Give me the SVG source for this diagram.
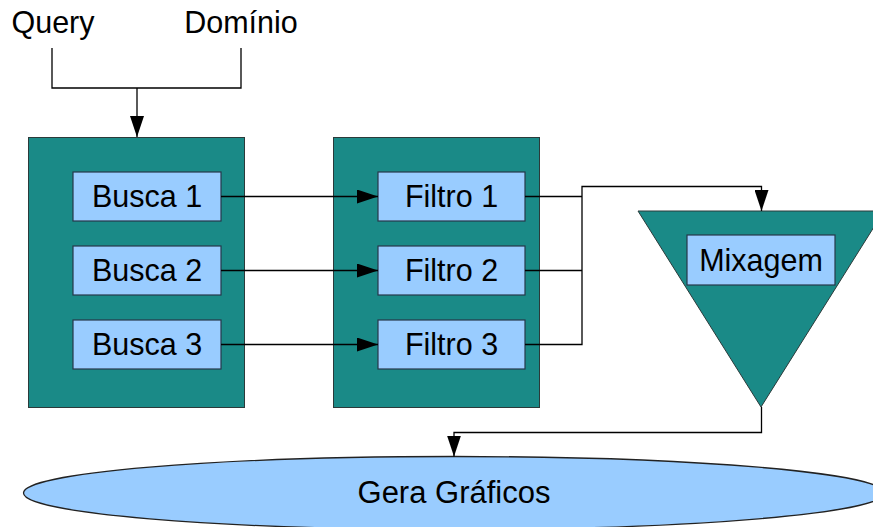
<svg xmlns="http://www.w3.org/2000/svg" width="873" height="527" viewBox="0 0 873 527">
  <defs>
    <style>
      .panel { fill: #1a8a87; stroke: #2b3a3a; stroke-width: 1; }
      .box { fill: #99ccff; stroke: #27374a; stroke-width: 1.2; }
      .lbl { font-family: "Liberation Sans", Arial, sans-serif; font-size: 30.5px; fill: #000; text-anchor: middle; }
      .wire { fill: none; stroke: #000; stroke-width: 1.3; }
    </style>
    <marker id="arrow" viewBox="0 0 21 14" refX="21" refY="7" markerWidth="21" markerHeight="14" markerUnits="userSpaceOnUse" orient="auto">
      <path d="M0,0 L21,7 L0,14 Z" fill="#000"/>
    </marker>
  </defs>

  <rect width="873" height="527" fill="#fff"/>

  <!-- input labels -->
  <g id="query"><text class="lbl" x="53" y="33">Query</text></g>
  <g id="dominio"><text class="lbl" x="241" y="33">Domínio</text></g>

  <!-- search stage -->
  <g id="busca">
    <rect class="panel" x="28.5" y="137.5" width="216" height="270"/>
  </g>
  <g id="busca1">
    <rect class="box" x="73" y="172" width="148" height="49"/>
    <text class="lbl" x="147" y="207">Busca 1</text>
  </g>
  <g id="busca2">
    <rect class="box" x="73" y="246" width="148" height="49"/>
    <text class="lbl" x="147" y="281">Busca 2</text>
  </g>
  <g id="busca3">
    <rect class="box" x="73" y="320" width="148" height="49"/>
    <text class="lbl" x="147" y="355">Busca 3</text>
  </g>

  <!-- filter stage -->
  <g id="filtro">
    <rect class="panel" x="333.5" y="137.5" width="206" height="270"/>
  </g>
  <g id="filtro1">
    <rect class="box" x="378" y="172" width="147" height="49"/>
    <text class="lbl" x="451.5" y="207">Filtro 1</text>
  </g>
  <g id="filtro2">
    <rect class="box" x="378" y="246" width="147" height="49"/>
    <text class="lbl" x="451.5" y="281">Filtro 2</text>
  </g>
  <g id="filtro3">
    <rect class="box" x="378" y="320" width="147" height="49"/>
    <text class="lbl" x="451.5" y="355">Filtro 3</text>
  </g>

  <!-- mixing funnel -->
  <g id="mixagem">
    <polygon class="panel" points="638,211 884,211 761,407"/>
    <rect class="box" x="687" y="235" width="148" height="50"/>
    <text class="lbl" x="761" y="271">Mixagem</text>
  </g>

  <!-- chart generation -->
  <g id="gera-graficos">
    <ellipse cx="454" cy="493" rx="430.5" ry="36.5" fill="#99ccff" stroke="#222" stroke-width="1.3"/>
    <text class="lbl" x="454" y="503" style="font-size:31px">Gera Gráficos</text>
  </g>

  <!-- connectors -->
  <g id="connectors">
    <path class="wire" d="M52,48 V88 H241 V48"/>
    <path class="wire" d="M137,88 V137" marker-end="url(#arrow)"/>

    <path class="wire" d="M221,196.5 H378" marker-end="url(#arrow)"/>
    <path class="wire" d="M221,270.5 H378" marker-end="url(#arrow)"/>
    <path class="wire" d="M221,344.5 H378" marker-end="url(#arrow)"/>

    <path class="wire" d="M525,196.5 H582"/>
    <path class="wire" d="M525,270.5 H582"/>
    <path class="wire" d="M525,344.5 H582 V186.5 H761.5 V211" marker-end="url(#arrow)"/>

    <path class="wire" d="M761.5,407 V432.5 H454 V456.5" marker-end="url(#arrow)"/>
  </g>
</svg>
